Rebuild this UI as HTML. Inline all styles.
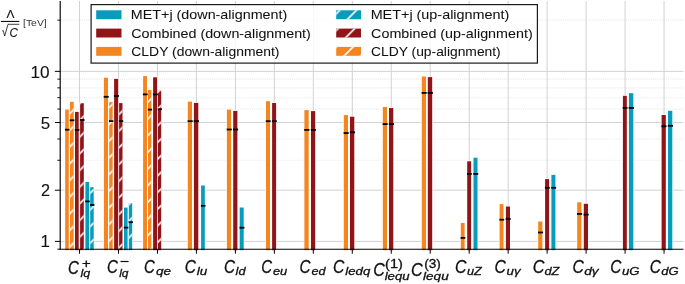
<!DOCTYPE html>
<html><head><meta charset="utf-8"><style>
html,body{margin:0;padding:0;background:#fff;width:685px;height:284px;overflow:hidden}
svg{display:block;will-change:transform}
</style></head><body>
<svg width="685" height="284" viewBox="0 0 685 284" font-family="Liberation Sans, sans-serif">
<defs>
<pattern id="h" patternUnits="userSpaceOnUse" width="16.667" height="16.667">
<path d="M-2,2 L2,-2 M0,16.667 L16.667,0 M14.667,18.667 L18.667,14.667" stroke="#fff" stroke-width="1.6" fill="none"/>
</pattern>
</defs>
<rect x="0" y="0" width="685" height="284" fill="#fff"/>
<line x1="60.900000000000006" y1="160.27" x2="683.5" y2="160.27" stroke="#ececec" stroke-width="1.1" stroke-dasharray="1.2 0.9"/>
<line x1="60.900000000000006" y1="139.02" x2="683.5" y2="139.02" stroke="#ececec" stroke-width="1.1" stroke-dasharray="1.2 0.9"/>
<line x1="60.900000000000006" y1="109.08" x2="683.5" y2="109.08" stroke="#ececec" stroke-width="1.1" stroke-dasharray="1.2 0.9"/>
<line x1="60.900000000000006" y1="97.69" x2="683.5" y2="97.69" stroke="#ececec" stroke-width="1.1" stroke-dasharray="1.2 0.9"/>
<line x1="60.900000000000006" y1="87.83" x2="683.5" y2="87.83" stroke="#ececec" stroke-width="1.1" stroke-dasharray="1.2 0.9"/>
<line x1="60.900000000000006" y1="79.13" x2="683.5" y2="79.13" stroke="#ececec" stroke-width="1.1" stroke-dasharray="1.2 0.9"/>
<line x1="60.900000000000006" y1="20.16" x2="683.5" y2="20.16" stroke="#ececec" stroke-width="1.1" stroke-dasharray="1.2 0.9"/>
<line x1="60.2" y1="241.40" x2="683.5" y2="241.40" stroke="#d2d2d2" stroke-width="1"/>
<line x1="60.2" y1="190.21" x2="683.5" y2="190.21" stroke="#d2d2d2" stroke-width="1"/>
<line x1="60.2" y1="122.54" x2="683.5" y2="122.54" stroke="#d2d2d2" stroke-width="1"/>
<line x1="60.2" y1="71.35" x2="683.5" y2="71.35" stroke="#d2d2d2" stroke-width="1"/>
<line x1="79.50" y1="1.0" x2="79.50" y2="249.2" stroke="#d2d2d2" stroke-width="1"/>
<line x1="118.47" y1="1.0" x2="118.47" y2="249.2" stroke="#d2d2d2" stroke-width="1"/>
<line x1="157.44" y1="1.0" x2="157.44" y2="249.2" stroke="#d2d2d2" stroke-width="1"/>
<line x1="196.41" y1="1.0" x2="196.41" y2="249.2" stroke="#d2d2d2" stroke-width="1"/>
<line x1="235.38" y1="1.0" x2="235.38" y2="249.2" stroke="#d2d2d2" stroke-width="1"/>
<line x1="274.35" y1="1.0" x2="274.35" y2="249.2" stroke="#d2d2d2" stroke-width="1"/>
<line x1="313.32" y1="1.0" x2="313.32" y2="249.2" stroke="#d2d2d2" stroke-width="1"/>
<line x1="352.29" y1="1.0" x2="352.29" y2="249.2" stroke="#d2d2d2" stroke-width="1"/>
<line x1="391.26" y1="1.0" x2="391.26" y2="249.2" stroke="#d2d2d2" stroke-width="1"/>
<line x1="430.23" y1="1.0" x2="430.23" y2="249.2" stroke="#d2d2d2" stroke-width="1"/>
<line x1="469.20" y1="1.0" x2="469.20" y2="249.2" stroke="#d2d2d2" stroke-width="1"/>
<line x1="508.17" y1="1.0" x2="508.17" y2="249.2" stroke="#d2d2d2" stroke-width="1"/>
<line x1="547.14" y1="1.0" x2="547.14" y2="249.2" stroke="#d2d2d2" stroke-width="1"/>
<line x1="586.11" y1="1.0" x2="586.11" y2="249.2" stroke="#d2d2d2" stroke-width="1"/>
<line x1="625.08" y1="1.0" x2="625.08" y2="249.2" stroke="#d2d2d2" stroke-width="1"/>
<line x1="664.05" y1="1.0" x2="664.05" y2="249.2" stroke="#d2d2d2" stroke-width="1"/>
<rect x="64.55" y="108.85" width="4.90" height="140.70" fill="#fff"/>
<rect x="69.25" y="101.15" width="5.10" height="148.40" fill="#fff"/>
<rect x="74.35" y="111.25" width="5.00" height="138.30" fill="#fff"/>
<rect x="79.45" y="102.55" width="5.00" height="147.00" fill="#fff"/>
<rect x="84.75" y="181.35" width="5.00" height="68.20" fill="#fff"/>
<rect x="89.55" y="186.55" width="4.80" height="63.00" fill="#fff"/>
<rect x="103.25" y="77.05" width="5.40" height="172.50" fill="#fff"/>
<rect x="108.55" y="101.45" width="4.80" height="148.10" fill="#fff"/>
<rect x="113.45" y="78.25" width="5.40" height="171.30" fill="#fff"/>
<rect x="118.45" y="102.45" width="4.70" height="147.10" fill="#fff"/>
<rect x="123.35" y="206.95" width="4.90" height="42.60" fill="#fff"/>
<rect x="128.15" y="202.55" width="4.70" height="47.00" fill="#fff"/>
<rect x="142.45" y="75.45" width="5.20" height="174.10" fill="#fff"/>
<rect x="147.35" y="89.35" width="4.70" height="160.20" fill="#fff"/>
<rect x="152.45" y="76.65" width="5.30" height="172.90" fill="#fff"/>
<rect x="157.25" y="90.15" width="4.60" height="159.40" fill="#fff"/>
<rect x="187.15" y="100.95" width="5.50" height="148.60" fill="#fff"/>
<rect x="193.25" y="102.25" width="5.70" height="147.30" fill="#fff"/>
<rect x="200.45" y="184.85" width="5.00" height="64.70" fill="#fff"/>
<rect x="226.25" y="108.95" width="5.50" height="140.60" fill="#fff"/>
<rect x="232.55" y="110.25" width="5.50" height="139.30" fill="#fff"/>
<rect x="239.05" y="206.85" width="5.30" height="42.70" fill="#fff"/>
<rect x="265.35" y="100.55" width="5.30" height="149.00" fill="#fff"/>
<rect x="271.45" y="102.35" width="5.30" height="147.20" fill="#fff"/>
<rect x="303.75" y="109.45" width="5.60" height="140.10" fill="#fff"/>
<rect x="310.35" y="110.45" width="5.50" height="139.10" fill="#fff"/>
<rect x="343.15" y="114.45" width="5.50" height="135.10" fill="#fff"/>
<rect x="349.35" y="116.05" width="5.60" height="133.50" fill="#fff"/>
<rect x="382.15" y="106.35" width="5.50" height="143.20" fill="#fff"/>
<rect x="388.35" y="107.35" width="5.60" height="142.20" fill="#fff"/>
<rect x="421.15" y="75.85" width="5.50" height="173.70" fill="#fff"/>
<rect x="427.15" y="76.45" width="5.70" height="173.10" fill="#fff"/>
<rect x="460.15" y="222.35" width="5.10" height="27.20" fill="#fff"/>
<rect x="466.55" y="160.65" width="5.20" height="88.90" fill="#fff"/>
<rect x="472.85" y="157.05" width="5.30" height="92.50" fill="#fff"/>
<rect x="498.95" y="203.45" width="5.20" height="46.10" fill="#fff"/>
<rect x="505.25" y="205.85" width="5.40" height="43.70" fill="#fff"/>
<rect x="537.55" y="220.85" width="5.50" height="28.70" fill="#fff"/>
<rect x="544.45" y="178.45" width="5.30" height="71.10" fill="#fff"/>
<rect x="550.75" y="174.25" width="5.30" height="75.30" fill="#fff"/>
<rect x="576.55" y="201.65" width="5.50" height="47.90" fill="#fff"/>
<rect x="583.15" y="203.15" width="5.50" height="46.40" fill="#fff"/>
<rect x="622.25" y="95.15" width="5.20" height="154.40" fill="#fff"/>
<rect x="628.25" y="92.55" width="5.70" height="157.00" fill="#fff"/>
<rect x="660.95" y="114.35" width="5.50" height="135.20" fill="#fff"/>
<rect x="667.35" y="110.15" width="5.60" height="139.40" fill="#fff"/>
<rect x="65.2" y="109.5" width="3.60" height="140.70" fill="#f4851f"/>
<rect x="69.9" y="101.8" width="3.80" height="148.40" fill="#f4851f"/>
<rect x="69.9" y="101.8" width="3.80" height="148.40" fill="url(#h)"/>
<rect x="75.0" y="111.9" width="3.70" height="138.30" fill="#901418"/>
<rect x="80.1" y="103.2" width="3.70" height="147.00" fill="#901418"/>
<rect x="80.1" y="103.2" width="3.70" height="147.00" fill="url(#h)"/>
<rect x="85.4" y="182.0" width="3.70" height="68.20" fill="#079bbc"/>
<rect x="90.2" y="187.2" width="3.50" height="63.00" fill="#079bbc"/>
<rect x="90.2" y="187.2" width="3.50" height="63.00" fill="url(#h)"/>
<rect x="103.9" y="77.7" width="4.10" height="172.50" fill="#f4851f"/>
<rect x="109.2" y="102.1" width="3.50" height="148.10" fill="#f4851f"/>
<rect x="109.2" y="102.1" width="3.50" height="148.10" fill="url(#h)"/>
<rect x="114.1" y="78.9" width="4.10" height="171.30" fill="#901418"/>
<rect x="119.1" y="103.1" width="3.40" height="147.10" fill="#901418"/>
<rect x="119.1" y="103.1" width="3.40" height="147.10" fill="url(#h)"/>
<rect x="124.0" y="207.6" width="3.60" height="42.60" fill="#079bbc"/>
<rect x="128.8" y="203.2" width="3.40" height="47.00" fill="#079bbc"/>
<rect x="128.8" y="203.2" width="3.40" height="47.00" fill="url(#h)"/>
<rect x="143.1" y="76.1" width="3.90" height="174.10" fill="#f4851f"/>
<rect x="148.0" y="90.0" width="3.40" height="160.20" fill="#f4851f"/>
<rect x="148.0" y="90.0" width="3.40" height="160.20" fill="url(#h)"/>
<rect x="153.1" y="77.3" width="4.00" height="172.90" fill="#901418"/>
<rect x="157.9" y="90.8" width="3.30" height="159.40" fill="#901418"/>
<rect x="157.9" y="90.8" width="3.30" height="159.40" fill="url(#h)"/>
<rect x="187.8" y="101.6" width="4.20" height="148.60" fill="#f4851f"/>
<rect x="193.9" y="102.9" width="4.40" height="147.30" fill="#901418"/>
<rect x="201.1" y="185.5" width="3.70" height="64.70" fill="#079bbc"/>
<rect x="226.9" y="109.6" width="4.20" height="140.60" fill="#f4851f"/>
<rect x="233.2" y="110.9" width="4.20" height="139.30" fill="#901418"/>
<rect x="239.7" y="207.5" width="4.00" height="42.70" fill="#079bbc"/>
<rect x="266.0" y="101.2" width="4.00" height="149.00" fill="#f4851f"/>
<rect x="272.1" y="103.0" width="4.00" height="147.20" fill="#901418"/>
<rect x="304.4" y="110.1" width="4.30" height="140.10" fill="#f4851f"/>
<rect x="311.0" y="111.1" width="4.20" height="139.10" fill="#901418"/>
<rect x="343.8" y="115.1" width="4.20" height="135.10" fill="#f4851f"/>
<rect x="350.0" y="116.7" width="4.30" height="133.50" fill="#901418"/>
<rect x="382.8" y="107.0" width="4.20" height="143.20" fill="#f4851f"/>
<rect x="389.0" y="108.0" width="4.30" height="142.20" fill="#901418"/>
<rect x="421.8" y="76.5" width="4.20" height="173.70" fill="#f4851f"/>
<rect x="427.8" y="77.1" width="4.40" height="173.10" fill="#901418"/>
<rect x="460.8" y="223.0" width="3.80" height="27.20" fill="#f4851f"/>
<rect x="467.2" y="161.3" width="3.90" height="88.90" fill="#901418"/>
<rect x="473.5" y="157.7" width="4.00" height="92.50" fill="#079bbc"/>
<rect x="499.6" y="204.1" width="3.90" height="46.10" fill="#f4851f"/>
<rect x="505.9" y="206.5" width="4.10" height="43.70" fill="#901418"/>
<rect x="538.2" y="221.5" width="4.20" height="28.70" fill="#f4851f"/>
<rect x="545.1" y="179.1" width="4.00" height="71.10" fill="#901418"/>
<rect x="551.4" y="174.9" width="4.00" height="75.30" fill="#079bbc"/>
<rect x="577.2" y="202.3" width="4.20" height="47.90" fill="#f4851f"/>
<rect x="583.8" y="203.8" width="4.20" height="46.40" fill="#901418"/>
<rect x="622.9" y="95.8" width="3.90" height="154.40" fill="#901418"/>
<rect x="628.9" y="93.2" width="4.40" height="157.00" fill="#079bbc"/>
<rect x="661.6" y="115.0" width="4.20" height="135.20" fill="#901418"/>
<rect x="668.0" y="110.8" width="4.30" height="139.40" fill="#079bbc"/>
<rect x="65.00" y="128.80" width="4.50" height="1.8" fill="#000"/>
<rect x="69.70" y="119.40" width="4.70" height="1.8" fill="#000"/>
<rect x="74.80" y="129.00" width="4.60" height="1.8" fill="#000"/>
<rect x="79.90" y="119.10" width="4.60" height="1.8" fill="#000"/>
<rect x="85.20" y="200.50" width="4.60" height="1.8" fill="#000"/>
<rect x="90.00" y="204.10" width="4.40" height="1.8" fill="#000"/>
<rect x="103.70" y="95.90" width="5.00" height="1.8" fill="#000"/>
<rect x="109.00" y="120.20" width="4.40" height="1.8" fill="#000"/>
<rect x="113.90" y="95.10" width="5.00" height="1.8" fill="#000"/>
<rect x="118.90" y="120.20" width="4.30" height="1.8" fill="#000"/>
<rect x="123.80" y="226.70" width="4.50" height="1.8" fill="#000"/>
<rect x="128.60" y="221.30" width="4.30" height="1.8" fill="#000"/>
<rect x="142.90" y="93.50" width="4.80" height="1.8" fill="#000"/>
<rect x="147.80" y="108.70" width="4.30" height="1.8" fill="#000"/>
<rect x="152.90" y="93.50" width="4.90" height="1.8" fill="#000"/>
<rect x="157.70" y="108.30" width="4.20" height="1.8" fill="#000"/>
<rect x="187.60" y="120.30" width="5.10" height="1.8" fill="#000"/>
<rect x="193.70" y="120.30" width="5.30" height="1.8" fill="#000"/>
<rect x="200.90" y="204.90" width="4.60" height="1.8" fill="#000"/>
<rect x="226.70" y="128.60" width="5.10" height="1.8" fill="#000"/>
<rect x="233.00" y="128.60" width="5.10" height="1.8" fill="#000"/>
<rect x="239.50" y="226.80" width="4.90" height="1.8" fill="#000"/>
<rect x="265.80" y="120.30" width="4.90" height="1.8" fill="#000"/>
<rect x="271.90" y="120.30" width="4.90" height="1.8" fill="#000"/>
<rect x="304.20" y="129.00" width="5.20" height="1.8" fill="#000"/>
<rect x="310.80" y="129.00" width="5.10" height="1.8" fill="#000"/>
<rect x="343.60" y="132.20" width="5.10" height="1.8" fill="#000"/>
<rect x="349.80" y="131.40" width="5.20" height="1.8" fill="#000"/>
<rect x="382.60" y="123.20" width="5.10" height="1.8" fill="#000"/>
<rect x="388.80" y="123.20" width="5.20" height="1.8" fill="#000"/>
<rect x="421.60" y="92.00" width="5.10" height="1.8" fill="#000"/>
<rect x="427.60" y="92.00" width="5.30" height="1.8" fill="#000"/>
<rect x="460.60" y="237.00" width="4.70" height="1.8" fill="#000"/>
<rect x="467.00" y="173.00" width="4.80" height="1.8" fill="#000"/>
<rect x="473.30" y="173.00" width="4.90" height="1.8" fill="#000"/>
<rect x="499.40" y="218.80" width="4.80" height="1.8" fill="#000"/>
<rect x="505.70" y="218.10" width="5.00" height="1.8" fill="#000"/>
<rect x="538.00" y="231.60" width="5.10" height="1.8" fill="#000"/>
<rect x="544.90" y="186.90" width="4.90" height="1.8" fill="#000"/>
<rect x="551.20" y="186.90" width="4.90" height="1.8" fill="#000"/>
<rect x="577.00" y="213.00" width="5.10" height="1.8" fill="#000"/>
<rect x="583.60" y="213.70" width="5.10" height="1.8" fill="#000"/>
<rect x="622.70" y="107.00" width="4.80" height="1.8" fill="#000"/>
<rect x="628.70" y="107.00" width="5.30" height="1.8" fill="#000"/>
<rect x="661.40" y="125.40" width="5.10" height="1.8" fill="#000"/>
<rect x="667.80" y="124.90" width="5.20" height="1.8" fill="#000"/>
<line x1="60.2" y1="1.0" x2="60.2" y2="249.79999999999998" stroke="#000" stroke-width="1.15"/>
<line x1="59.6" y1="249.2" x2="683.5" y2="249.2" stroke="#000" stroke-width="1.15"/>
<line x1="54.9" y1="241.40" x2="60.2" y2="241.40" stroke="#000" stroke-width="1.0"/>
<line x1="54.9" y1="190.21" x2="60.2" y2="190.21" stroke="#000" stroke-width="1.0"/>
<line x1="54.9" y1="122.54" x2="60.2" y2="122.54" stroke="#000" stroke-width="1.0"/>
<line x1="54.9" y1="71.35" x2="60.2" y2="71.35" stroke="#000" stroke-width="1.0"/>
<line x1="57.3" y1="249.18" x2="60.2" y2="249.18" stroke="#000" stroke-width="0.9"/>
<line x1="57.3" y1="160.27" x2="60.2" y2="160.27" stroke="#000" stroke-width="0.9"/>
<line x1="57.3" y1="139.02" x2="60.2" y2="139.02" stroke="#000" stroke-width="0.9"/>
<line x1="57.3" y1="109.08" x2="60.2" y2="109.08" stroke="#000" stroke-width="0.9"/>
<line x1="57.3" y1="97.69" x2="60.2" y2="97.69" stroke="#000" stroke-width="0.9"/>
<line x1="57.3" y1="87.83" x2="60.2" y2="87.83" stroke="#000" stroke-width="0.9"/>
<line x1="57.3" y1="79.13" x2="60.2" y2="79.13" stroke="#000" stroke-width="0.9"/>
<line x1="57.3" y1="20.16" x2="60.2" y2="20.16" stroke="#000" stroke-width="0.9"/>
<line x1="79.50" y1="249.2" x2="79.50" y2="253.7" stroke="#000" stroke-width="1.0"/>
<line x1="118.47" y1="249.2" x2="118.47" y2="253.7" stroke="#000" stroke-width="1.0"/>
<line x1="157.44" y1="249.2" x2="157.44" y2="253.7" stroke="#000" stroke-width="1.0"/>
<line x1="196.41" y1="249.2" x2="196.41" y2="253.7" stroke="#000" stroke-width="1.0"/>
<line x1="235.38" y1="249.2" x2="235.38" y2="253.7" stroke="#000" stroke-width="1.0"/>
<line x1="274.35" y1="249.2" x2="274.35" y2="253.7" stroke="#000" stroke-width="1.0"/>
<line x1="313.32" y1="249.2" x2="313.32" y2="253.7" stroke="#000" stroke-width="1.0"/>
<line x1="352.29" y1="249.2" x2="352.29" y2="253.7" stroke="#000" stroke-width="1.0"/>
<line x1="391.26" y1="249.2" x2="391.26" y2="253.7" stroke="#000" stroke-width="1.0"/>
<line x1="430.23" y1="249.2" x2="430.23" y2="253.7" stroke="#000" stroke-width="1.0"/>
<line x1="469.20" y1="249.2" x2="469.20" y2="253.7" stroke="#000" stroke-width="1.0"/>
<line x1="508.17" y1="249.2" x2="508.17" y2="253.7" stroke="#000" stroke-width="1.0"/>
<line x1="547.14" y1="249.2" x2="547.14" y2="253.7" stroke="#000" stroke-width="1.0"/>
<line x1="586.11" y1="249.2" x2="586.11" y2="253.7" stroke="#000" stroke-width="1.0"/>
<line x1="625.08" y1="249.2" x2="625.08" y2="253.7" stroke="#000" stroke-width="1.0"/>
<line x1="664.05" y1="249.2" x2="664.05" y2="253.7" stroke="#000" stroke-width="1.0"/>
<rect x="91.1" y="4.6" width="446.3" height="58.5" fill="#fff" fill-opacity="0.8" stroke="#1a1a1a" stroke-width="1.2"/>
<rect x="96.2" y="10.3" width="25.3" height="8.9" fill="#079bbc"/>
<rect x="336.2" y="10.3" width="24.8" height="8.9" fill="#079bbc"/>
<rect x="336.2" y="10.3" width="24.8" height="8.9" fill="url(#h)"/>
<rect x="96.2" y="28.6" width="25.3" height="8.9" fill="#901418"/>
<rect x="336.2" y="28.6" width="24.8" height="8.9" fill="#901418"/>
<rect x="336.2" y="28.6" width="24.8" height="8.9" fill="url(#h)"/>
<rect x="96.2" y="46.9" width="25.3" height="8.9" fill="#f4851f"/>
<rect x="336.2" y="46.9" width="24.8" height="8.9" fill="#f4851f"/>
<rect x="336.2" y="46.9" width="24.8" height="8.9" fill="url(#h)"/>
<rect x="120.5" y="260.9" width="8.1" height="1.2" fill="#111"/>
<rect x="0.9" y="20.9" width="18.4" height="1.1" fill="#111"/>
<path d="M2.2,31.0 L3.2,30.5 L4.7,36.0 L8.0,24.3 L19.3,24.3" stroke="#111" stroke-width="0.8" fill="none"/>
<text transform="translate(40.53,247.40) scale(1.0032,1)" font-size="16.87" fill="#111" stroke="#111" stroke-width="0.1">1</text>
<text transform="translate(40.89,196.30) scale(0.9873,1)" font-size="16.43" fill="#111" stroke="#111" stroke-width="0.1">2</text>
<text transform="translate(40.66,128.70) scale(1.0079,1)" font-size="16.72" fill="#111" stroke="#111" stroke-width="0.1">5</text>
<text transform="translate(30.51,77.60) scale(1.0472,1)" font-size="16.42" fill="#111" stroke="#111" stroke-width="0.1">10</text>
<text transform="translate(67.90,274.19) scale(0.8228,1)" font-size="18.27" font-style="italic" fill="#111" stroke="#111" stroke-width="0.3">C</text>
<text transform="translate(80.56,277.10) scale(1.0994,1)" font-size="11.40" font-style="italic" fill="#111" stroke="#111" stroke-width="0.3">lq</text>
<text transform="translate(81.95,267.98) scale(1.2167,1)" font-size="12.31" fill="#111" stroke="#111" stroke-width="0.3">+</text>
<text transform="translate(106.95,273.38) scale(0.8205,1)" font-size="18.41" font-style="italic" fill="#111" stroke="#111" stroke-width="0.3">C</text>
<text transform="translate(119.18,277.10) scale(1.0526,1)" font-size="11.40" font-style="italic" fill="#111" stroke="#111" stroke-width="0.3">lq</text>
<text transform="translate(143.96,273.29) scale(0.8251,1)" font-size="18.12" font-style="italic" fill="#111" stroke="#111" stroke-width="0.3">C</text>
<text transform="translate(155.97,274.60) scale(1.1934,1)" font-size="11.40" font-style="italic" fill="#111" stroke="#111" stroke-width="0.3">qe</text>
<text transform="translate(184.73,273.29) scale(0.8581,1)" font-size="18.12" font-style="italic" fill="#111" stroke="#111" stroke-width="0.3">C</text>
<text transform="translate(196.75,274.60) scale(1.1894,1)" font-size="11.40" font-style="italic" fill="#111" stroke="#111" stroke-width="0.3">lu</text>
<text transform="translate(223.89,273.29) scale(0.8457,1)" font-size="18.12" font-style="italic" fill="#111" stroke="#111" stroke-width="0.3">C</text>
<text transform="translate(235.56,274.60) scale(1.1250,1)" font-size="11.40" font-style="italic" fill="#111" stroke="#111" stroke-width="0.3">ld</text>
<text transform="translate(261.16,273.29) scale(0.8251,1)" font-size="18.12" font-style="italic" fill="#111" stroke="#111" stroke-width="0.3">C</text>
<text transform="translate(272.89,274.60) scale(1.1393,1)" font-size="11.40" font-style="italic" fill="#111" stroke="#111" stroke-width="0.3">eu</text>
<text transform="translate(299.54,273.29) scale(0.8416,1)" font-size="18.12" font-style="italic" fill="#111" stroke="#111" stroke-width="0.3">C</text>
<text transform="translate(311.40,274.60) scale(1.1101,1)" font-size="11.40" font-style="italic" fill="#111" stroke="#111" stroke-width="0.3">ed</text>
<text transform="translate(333.12,273.29) scale(0.8663,1)" font-size="18.12" font-style="italic" fill="#111" stroke="#111" stroke-width="0.3">C</text>
<text transform="translate(345.35,274.60) scale(1.1586,1)" font-size="11.40" font-style="italic" fill="#111" stroke="#111" stroke-width="0.3">ledq</text>
<text transform="translate(373.20,275.78) scale(0.8561,1)" font-size="18.69" font-style="italic" fill="#111" stroke="#111" stroke-width="0.3">C</text>
<text transform="translate(384.65,280.10) scale(1.1569,1)" font-size="11.40" font-style="italic" fill="#111" stroke="#111" stroke-width="0.3">lequ</text>
<text transform="translate(385.09,267.80) scale(1.1987,1)" font-size="12.13" fill="#111" stroke="#111" stroke-width="0.3">(1)</text>
<text transform="translate(410.99,275.78) scale(0.8641,1)" font-size="18.69" font-style="italic" fill="#111" stroke="#111" stroke-width="0.3">C</text>
<text transform="translate(423.05,280.10) scale(1.1901,1)" font-size="11.40" font-style="italic" fill="#111" stroke="#111" stroke-width="0.3">lequ</text>
<text transform="translate(424.15,267.80) scale(1.1238,1)" font-size="12.13" fill="#111" stroke="#111" stroke-width="0.3">(3)</text>
<text transform="translate(454.91,273.29) scale(0.8746,1)" font-size="18.12" font-style="italic" fill="#111" stroke="#111" stroke-width="0.3">C</text>
<text transform="translate(466.94,274.60) scale(1.1137,1)" font-size="11.40" font-style="italic" fill="#111" stroke="#111" stroke-width="0.3">uZ</text>
<text transform="translate(494.62,273.29) scale(0.8663,1)" font-size="18.12" font-style="italic" fill="#111" stroke="#111" stroke-width="0.3">C</text>
<text transform="translate(506.62,274.60) scale(1.1627,1)" font-size="11.40" font-style="italic" fill="#111" stroke="#111" stroke-width="0.3">uγ</text>
<text transform="translate(532.69,273.29) scale(0.8911,1)" font-size="18.12" font-style="italic" fill="#111" stroke="#111" stroke-width="0.3">C</text>
<text transform="translate(544.50,274.60) scale(1.1243,1)" font-size="11.40" font-style="italic" fill="#111" stroke="#111" stroke-width="0.3">dZ</text>
<text transform="translate(572.42,273.29) scale(0.8663,1)" font-size="18.12" font-style="italic" fill="#111" stroke="#111" stroke-width="0.3">C</text>
<text transform="translate(584.17,274.60) scale(1.1983,1)" font-size="11.40" font-style="italic" fill="#111" stroke="#111" stroke-width="0.3">dγ</text>
<text transform="translate(610.23,273.29) scale(0.8498,1)" font-size="18.12" font-style="italic" fill="#111" stroke="#111" stroke-width="0.3">C</text>
<text transform="translate(621.92,274.60) scale(1.1567,1)" font-size="11.40" font-style="italic" fill="#111" stroke="#111" stroke-width="0.3">uG</text>
<text transform="translate(649.63,273.29) scale(0.8498,1)" font-size="18.12" font-style="italic" fill="#111" stroke="#111" stroke-width="0.3">C</text>
<text transform="translate(661.19,274.60) scale(1.1452,1)" font-size="11.40" font-style="italic" fill="#111" stroke="#111" stroke-width="0.3">dG</text>
<text transform="translate(130.83,19.00) scale(1.1658,1)" font-size="12.30" fill="#111" stroke="#111" stroke-width="0.05">MET+j (down-alignment)</text>
<text transform="translate(370.63,19.00) scale(1.1707,1)" font-size="12.30" fill="#111" stroke="#111" stroke-width="0.05">MET+j (up-alignment)</text>
<text transform="translate(131.28,37.50) scale(1.1637,1)" font-size="12.30" fill="#111" stroke="#111" stroke-width="0.05">Combined (down-alignment)</text>
<text transform="translate(371.08,37.50) scale(1.1654,1)" font-size="12.30" fill="#111" stroke="#111" stroke-width="0.05">Combined (up-alignment)</text>
<text transform="translate(131.30,56.00) scale(1.1319,1)" font-size="12.30" fill="#111" stroke="#111" stroke-width="0.05">CLDY (down-alignment)</text>
<text transform="translate(371.11,56.00) scale(1.1253,1)" font-size="12.30" fill="#111" stroke="#111" stroke-width="0.05">CLDY (up-alignment)</text>
<text transform="translate(6.53,18.00) scale(1.0895,1)" font-size="10.91" fill="#111" stroke="#111" stroke-width="0.1">Λ</text>
<text transform="translate(9.44,36.82) scale(0.9468,1)" font-size="12.32" font-style="italic" fill="#111" stroke="#111" stroke-width="0.1">C</text>
<text transform="translate(22.98,26.10) scale(1.0867,1)" font-size="9.60" fill="#333" stroke="#333" stroke-width="0">[TeV]</text>
</svg>
</body></html>
